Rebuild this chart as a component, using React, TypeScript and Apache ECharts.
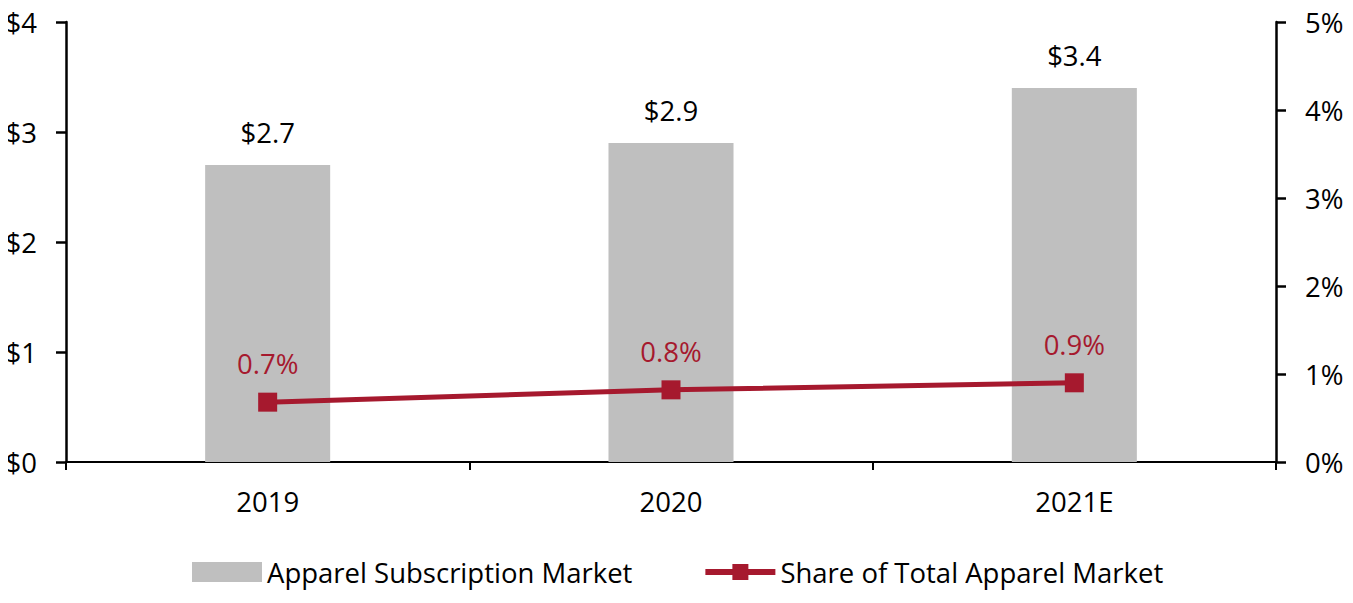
import React, { useEffect, useRef } from "react";
import * as echarts from "echarts";

const categories = ["2019", "2020", "2021E"];
const marketValues = [2.7, 2.9, 3.4];
const shareValues = [0.68, 0.82, 0.9];
const leftTicks = { min: 0, max: 4, interval: 1 };
const rightTicks = { min: 0, max: 5, interval: 1 };

const FONT = "'Open Sans', sans-serif";
const RED = "#A6192E";
const FS = 27.5;

export default function App() {
  const ref = useRef<HTMLDivElement>(null);
  useEffect(() => {
    if (!ref.current) return;
    const chart = echarts.init(ref.current, undefined, { renderer: "svg" });
    chart.setOption({
      animation: false,
      textStyle: { fontFamily: FONT },
      grid: { left: 66, right: 77, top: 22, bottom: 141, containLabel: false },
      legend: {
        bottom: 12,
        left: 187,
        itemWidth: 70,
        itemHeight: 20,
        itemGap: 70,
        textStyle: { fontFamily: FONT, fontSize: FS, color: "#000" },
        data: [
          { name: "Apparel Subscription Market", icon: "rect" },
          { name: "Share of Total Apparel Market", lineStyle: { width: 6, color: RED } },
        ],
      },
      xAxis: {
        type: "category",
        data: categories,
        axisLine: { lineStyle: { color: "#000", width: 2 } },
        axisTick: { show: true, length: 8, lineStyle: { color: "#000", width: 2 } },
        axisLabel: { color: "#000", fontSize: FS, margin: 25, fontFamily: FONT },
      },
      yAxis: [
        {
          type: "value",
          ...leftTicks,
          splitLine: { show: false },
          axisLine: { show: true, lineStyle: { color: "#000", width: 2.5 } },
          axisTick: { show: true, length: 10, lineStyle: { color: "#000", width: 2.5 } },
          axisLabel: {
            color: "#000",
            fontSize: FS,
            margin: 29,
            fontFamily: FONT,
            formatter: (v: number) => "$" + v,
          },
        },
        {
          type: "value",
          ...rightTicks,
          position: "right",
          splitLine: { show: false },
          axisLine: { show: true, lineStyle: { color: "#000", width: 2.5 } },
          axisTick: { show: true, length: 10, lineStyle: { color: "#000", width: 2.5 } },
          axisLabel: {
            color: "#000",
            fontSize: FS,
            margin: 29,
            fontFamily: FONT,
            formatter: (v: number) => v + "%",
          },
        },
      ],
      series: [
        {
          name: "Apparel Subscription Market",
          type: "bar",
          data: marketValues,
          barWidth: "31%",
          itemStyle: { color: "#BFBFBF" },
          label: {
            show: true,
            position: "top",
            distance: 19,
            color: "#000",
            fontSize: FS,
            fontFamily: FONT,
            formatter: (p: any) => "$" + p.value.toFixed(1),
          },
        },
        {
          name: "Share of Total Apparel Market",
          type: "line",
          yAxisIndex: 1,
          data: shareValues,
          symbol: "rect",
          symbolSize: 19,
          itemStyle: { color: RED },
          lineStyle: { color: RED, width: 5 },
          label: {
            show: true,
            position: "top",
            distance: 15,
            color: RED,
            fontSize: FS,
            fontFamily: FONT,
            formatter: (p: any) => p.value.toFixed(1) + "%",
          },
        },
      ],
    });
    return () => chart.dispose();
  }, []);
  return <div ref={ref} style={{ width: 1353, height: 603, margin: -8 }} />;
}
